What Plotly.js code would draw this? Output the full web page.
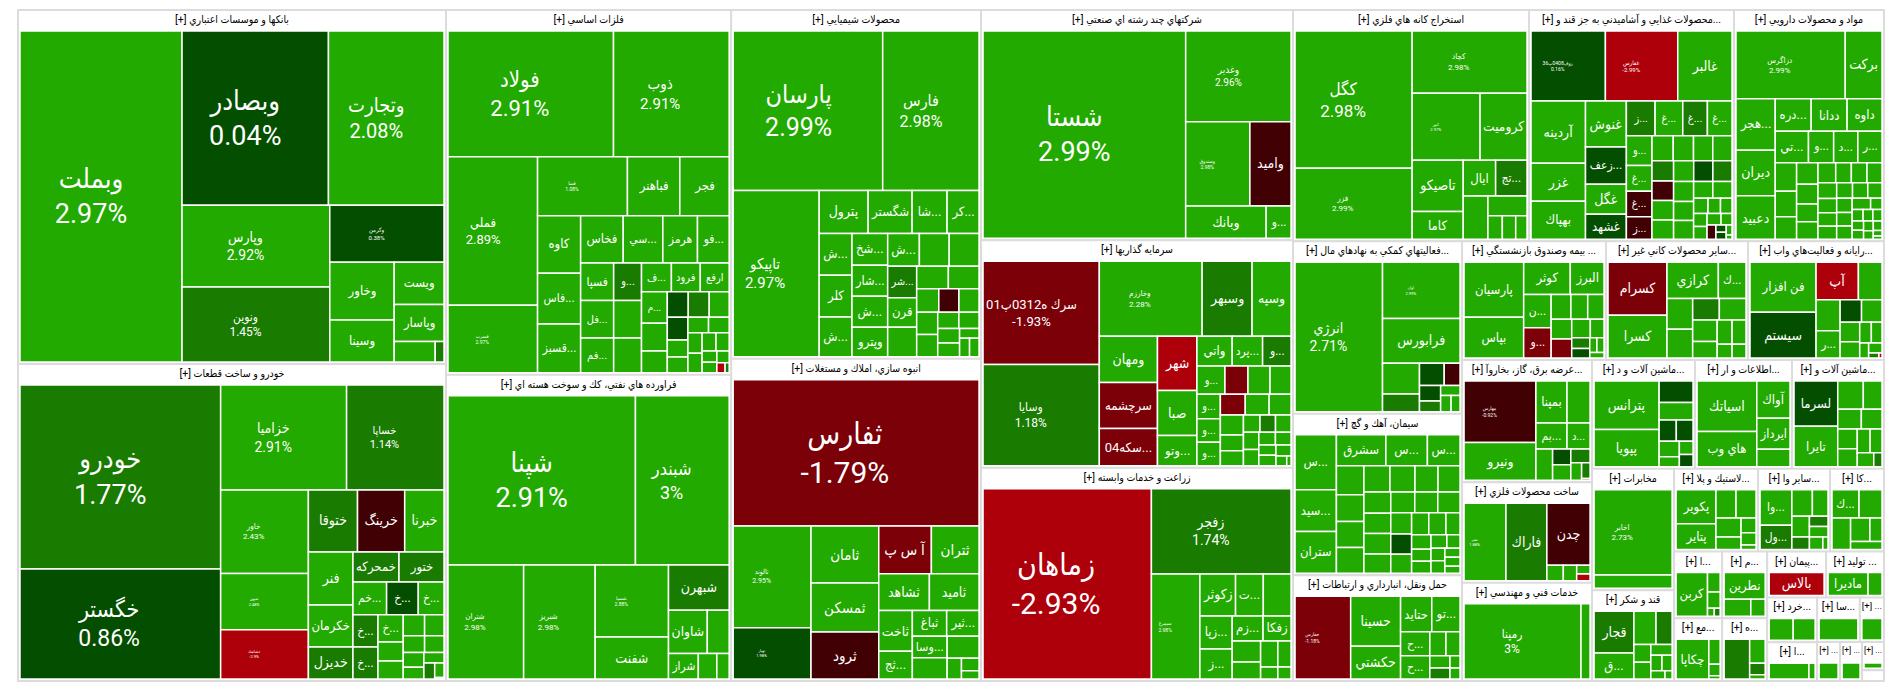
<!DOCTYPE html>
<html>
<head>
<meta charset="utf-8">
<script src="https://cdn.plot.ly/plotly-3.0.1.min.js"></script>
<style>
html, body { margin: 0; padding: 0; background: #fff; overflow: hidden; }
#map { position: absolute; left: 0; top: -13px; width: 1904px; height: 711px; }
</style>
</head>
<body>
<div id="map"></div>
<script>
// areas (px), tones: g m d = green shades, r c k = red shades
const banksNames = ["وبملت","وبصادر","وتجارت","وپارس","ونوين","وكرمن","وخاور","ويست","وسينا","وپاسار"];
const banksPct = ["2.97%","0.04%","2.08%","2.92%","1.45%","0.38%"];
const banksSizes = [27,27,20,14,12,6,13,13,13,13];
const banksAreas = [53452,25431,20068,12054,11025,6496,3712,2091,2688,1836,180,840];
const banksTones = "gdggmdggggm";

const autoNames = ["خودرو","خگستر","خزاميا","خساپا","خاور","شپهن","خشاشك","ختوقا","خرينگ","خبرنا","فنر","خمحركه","ختور","خم...","خ...","خ...","خكرمان","خديزل","خ...","خ...","خ..."];
const autoPct = ["1.77%","0.86%","2.91%","1.14%","2.43%","2.48%","-2.9%"];
const autoSizes = [27,23,14,11,8,4,4,14,14,14,14,13,13,12,12,12,14,14,12,12,12];
const autoAreas = [36432,21780,13056,10098,7221,4872,4263,3000,2880,2400,2332,1370,1340,1088,1024,832,1848,1408,792,675,792,171,440,400,475,450,352,320,300,209,240,133,14];
const autoTones = "mdgmggrmkggmmgdggmmgmm";

const metalsNames = ["فولاد","ذوب","فملي","فسرب","فسا","فباهنر","فجر","كاوه","فخاس","سي...","هرمز","فو...","فاس...","قسبز...","فسپا","و...","ف...","فرود","ارفع","فل...","فم...","م..."];
const metalsPct = ["2.91%","2.91%","2.89%","2.97%","1.08%"];
const metalsSizes = [22,15,13,5,5,13,13,13,13,12,12,12,12,12,12,11,11,11,11,11,11,10];
const metalsAreas = [20418,14268,13050,5916,5187,3021,2850,2436,1978,1840,1610,1472,2142,2058,1216,1026,840,812,812,1216,1120,800,525,462,525,40,80,1026,945,700,550,500,315,315,340,320,286,247,270,234,165,143,150];
const metalsTones = "gggggggggggggggmggggggddmmr";

const oilNames = ["شپنا","شبندر","شتران","شبريز","شسپا","شفنت","شبهرن","شاوان","شراز"];
const oilPct = ["2.91%","3%","2.98%","2.98%","2.88%"];
const oilSizes = [27,18,8,8,5,14,14,14,13];
const oilAreas = [31584,15792,8584,8120,5256,3066,2728,1677,754,946,468,312];
const oilTones = "ggggggm";

const chemNames = ["پارسان","فارس","تاپيكو","پترول","شگستر","شا...","كر...","ش...","كلر","ش...","شخ...","شار...","ش...","وپترو","ش...","شر...","قرن"];
const chemPct = ["2.99%","2.98%","2.97%"];
const chemSizes = [25,16,15,14,14,13,13,13,13,13,13,13,13,13,13,13,13];
const chemAreas = [23393,15072,14027,2058,1848,1470,1344,1344,1344,1280,1120,1085,1085,1030,1020,896,840,460,960,960,840,704,682,506,460,460,460,336,320,315,294,190,171,180];
const chemTones = "gggggggggggggggmgk";

const massNames = ["ثفارس","تالوند","تهيار","ثامان","ثمسكن","ثرود","آ س پ","ثتران","ثشاهد","ثاميد","ثاخت","ثج...","ثباغ","ثير...","وسا..."];
const massPct = ["-1.79%","2.95%","1.98%"];
const massSizes = [30,7,4,15,15,15,15,15,14,14,14,13,13,13,13];
const massAreas = [35568,7828,3952,3819,3283,3149,2491,2256,1836,1800,1353,924,875,825,735,693,735,294,216,144];
const massTones = "cgdggkc";

const multiNames = ["شستا","وغدير","وصندوق","واميد","وبانك","و..."];
const multiPct = ["2.99%","2.96%","2.98%"];
const multiSizes = [27,10,5,14,14,12];
const multiAreas = [41808,9523,5376,3444,2592,800];
const multiTones = "gggk";

const investNames = ["سرك ه0312پ01","وسايا","وخارزم","وسبهر","وسپه","ومهان","سرچشمه","سكه04...","شهر","صبا","وتو...","واتي","پرد...","و...","و...","و...","و...","و..."];
const investPct = ["-1.93%","1.18%","2.28%"];
const investSizes = [15,12,8,14,14,14,13,13,14,14,13,13,12,12,11,11,11,11];
const investAreas = [11526,11300,7416,3600,2808,2576,2576,2072,2052,1710,1140,1008,868,812,756,552,529,529,621,500,255,594,567,480,440,440,352,330,255,272,240,204,192,170,160,255,170,100,40];
const investTones = "cmgmggccrggggmggggccm";

const agriNames = ["زماهان","زفجر","سيمرغ","زكوثر","ت...","زپا...","ز...","زم...","زفكا"];
const agriPct = ["-2.93%","1.74%","2.98%"];
const agriSizes = [30,14,5,14,13,13,13,13,13];
const agriAreas = [31680,11786,5029,1476,1148,1056,960,768,696,1148,588,476,442,338,204,156];
const agriTones = "rm";

const miningNames = ["كگل","فزر","كچاد","كنور","كروميت","تاصيكو","كاما","ايال","تج..."];
const miningPct = ["2.98%","2.99%","2.98%","2.97%"];
const miningSizes = [17,8,8,4,14,14,13,13,12];
const miningAreas = [15892,8236,7076,4488,3102,2600,1400,1152,1116,1056,760,336,312,264];
const miningTones = "ggggggggm";

const foodNames = ["زوف0408پ36","غفارس","غالبر","آردينه","غزر","بهپاك","غنوش","زعف...","غگل","غشهد","ز...","غ...","غ...","غ...","و...","غ...","غ...","ز..."];
const foodPct = ["0.16%","-2.99%"];
const foodSizes = [5,6,14,14,14,13,14,12,14,13,11,11,11,11,11,11,11,11];
const foodAreas = [4958,4824,3618,3224,1976,1976,1794,1443,1170,975,952,918,816,816,725,625,625,550,420,400,380,380,120,70,70,504,480,456,456,380,399,361,361,399,399,304,304,210,182,168,165,154,165,121,54,24];
const foodTones = "drgggggdgdmgmgggkkmkdmkdd";

const drugNames = ["دزاگرس","بركت","هجر...","ديران","دعبيد","دره...","ددانا","داوه","تي...","و...","د...","ر..."];
const drugPct = ["2.99%"];
const drugSizes = [8,14,13,14,14,13,13,13,13,12,12,12];
const drugAreas = [7040,2368,1924,1702,1628,1116,1116,1085,990,750,720,720,580,520,460,440,400,360,340,360,288,252,234,234,300,240,210,195,195,300,280,225,210,200,100,120,120,108,100,100,90,80,80,45,27];
const drugTones = "";

const finNames = ["انرژي","اوان","فرابورس"];
const finPct = ["2.71%","2.99%"];
const finSizes = [14,4,14];
const finAreas = [12963,4320,3440,650,350,325,546,224,1127,168,192,144];
const finTones = "gggmkddm";

const cementNames = ["س...","سيد...","ستران","سشرق","س...","س..."];
const cementPct = [];
const cementSizes = [13,13,13,13,13,13];
const cementAreas = [2160,1640,1640,1450,1218,957,399,756,675,675,702,650,625,575,550,540,520,520,494,456,475,441,357,357,420,378,294,266,221,204,221,165,165,169,130,130,100];
const cementTones = "ggggggd";

const transportNames = ["حفارس","حسينا","حكشتي","حتايد","تو...","ح...","ح..."];
const transportPct = ["-1.18%"];
const transportSizes = [5,14,14,13,13,12,12];
const transportAreas = [4536,2450,1617,1088,986,696,667,220,384,336,240,120,110];
const transportTones = "cggggggm";

const insurNames = ["پارسيان","بپاس","كوثر","البرز","ن...","و..."];
const insurPct = [];
const insurSizes = [13,13,13,13,12,12];
const insurAreas = [3078,2280,1410,1020,858,780,368,180,162,460,391,380,380,323,238,98,98,75];
const insurTones = "gggggccmd";

const mineralsNames = ["كسرام","كسرا","كرازي","ك..."];
const mineralsPct = [];
const mineralsSizes = [14,14,14,12];
const mineralsAreas = [2964,2394,1768,952,540,750,700,540,504,384,345,322,195,182];
const mineralsTones = "cgggm";

const itNames = ["فن افزار","سيستم","آپ","ر..."];
const itPct = [];
const itSizes = [13,14,14,12];
const itAreas = [3136,2880,1505,621,462,50,15,840,713,441,361,209,228,304,128,126];
const itTones = "gdrgdmr";

const powerNames = ["مهارس","ونيرو","بمپنا","بم...","د..."];
const powerPct = ["-0.92%"];
const powerSizes = [5,14,13,12,11];
const powerAreas = [4200,2590,1240,775,575,270,252,126,14,920,496,270,180];
const powerTones = "kggggdmmr";

const metalworkNames = ["نشر","فاراك","چدن"];
const metalworkPct = ["1.88%"];
const metalworkSizes = [4,14,14];
const metalworkAreas = [3280,3200,2709,91,256,208,117];
const metalworkTones = "gmkr";

const engNames = ["رمپنا"];
const engPct = ["3%"];
const engSizes = [12];
const engAreas = [8584,666];
const engTones = "";

const machANames = ["پترانس","پپويا"];
const machAPct = [];
const machASizes = [14,14];
const machAAreas = [3024,2331,700,351,342,160,567,304,192,176];
const machATones = "ggdddd";

const infoNames = ["اسياتك","هاي وب","آواك","ايرداز"];
const infoPct = [];
const infoSizes = [14,13,13,13];
const infoAreas = [2900,2030,1188,990,561];
const infoTones = "";

const machBNames = ["لسرما","تايرا"];
const machBPct = [];
const machBSizes = [13,13];
const machBAreas = [1935,1720,112,702,513,456,399,380,340,299,276,224];
const machBTones = "dgm";

const telecomNames = ["اخابر"];
const telecomPct = ["2.73%"];
const telecomSizes = [8];
const telecomAreas = [6474,1014];
const telecomTones = "";

const sugarNames = ["قجار","ق..."];
const sugarPct = [];
const sugarSizes = [14,13];
const sugarAreas = [1596,988,512,704,288,272,220,165,150,112,56];
const sugarTones = "mgm";

const plasticNames = ["پكوير","پتاير"];
const plasticPct = [];
const plasticSizes = [13,13];
const plasticAreas = [1287,975,540,540,450,300,208,176,64];
const plasticTones = "";

const otherNames = ["وا...","ول..."];
const otherPct = [];
const otherSizes = [12,12];
const otherAreas = [1054,713,204,180,504,384,340,180,156,60];
const otherTones = "gmmm";

const kaNames = ["ك..."];
const kaPct = [];
const kaSizes = [12];
const kaAreas = [729,621,558,434,272,238];
const kaTones = "";

const alefNames = ["كربن"];
const alefAreas = [1408,48,252,210,56];
const alefTones = "gm";
const mimNames = ["نطرين"];
const mimAreas = [1066,442,238];
const peymanNames = ["بالاس"];
const peymanAreas = [1288];
const tolidNames = ["ماديرا"];
const tolidAreas = [920,322];
const kheradAreas = [483,441];
const alef2Areas = [672,105];
const dotsAreas = [504];
const jamNames = ["چكاپا"];
const jamAreas = [1320,288,132,36];
const heAreas = [1000,176,368,64];
const heTones = "mm";
const saAreas = [782];
const tinyAreas = [400];
const thinAreas = [74];
const thin2Areas = [74];
const edgeAreas = [80];

const none = [];
// title, outer area of the sector, names, pct labels, font sizes, leaf areas, tones
const sectors = [
  ["بانكها و موسسات اعتباري",151940,banksNames,banksPct,banksSizes,banksAreas,banksTones],
  ["خودرو و ساخت قطعات",136104,autoNames,autoPct,autoSizes,autoAreas,autoTones],
  ["فلزات اساسي",104310,metalsNames,metalsPct,metalsSizes,metalsAreas,metalsTones],
  ["فراورده هاي نفتي، كك و سوخت هسته اي",87600,oilNames,oilPct,oilSizes,oilAreas,oilTones],
  ["محصولات شيميايي",87400,chemNames,chemPct,chemSizes,chemAreas,chemTones],
  ["انبوه سازي، املاك و مستغلات",80750,massNames,massPct,massSizes,massAreas,massTones],
  ["شركتهاي چند رشته اي صنعتي",72072,multiNames,multiPct,multiSizes,multiAreas,multiTones],
  ["سرمايه گذاريها",71136,investNames,investPct,investSizes,investAreas,investTones],
  ["زراعت و خدمات وابسته",66768,agriNames,agriPct,agriSizes,agriAreas,agriTones],
  ["استخراج كانه هاي فلزي",54752,miningNames,miningPct,miningSizes,miningAreas,miningTones],
  ["محصولات غذايي و آشاميدني به جز قند و...",47560,foodNames,foodPct,foodSizes,foodAreas,foodTones],
  ["مواد و محصولات دارويي",34800,drugNames,drugPct,drugSizes,drugAreas,drugTones],
  ["فعاليتهاي كمكي به نهادهاي مال...",29237,finNames,finPct,finSizes,finAreas,finTones],
  ["سيمان، آهك و گچ",27378,cementNames,cementPct,cementSizes,cementAreas,cementTones],
  ["حمل ونقل، انبارداري و ارتباطات",17914,transportNames,transportPct,transportSizes,transportAreas,transportTones],
  ["بيمه وصندوق بازنشستگي ...",17136,insurNames,insurPct,insurSizes,insurAreas,insurTones],
  ["ساير محصولات كاني غير...",16898,mineralsNames,mineralsPct,mineralsSizes,mineralsAreas,mineralsTones],
  ["رايانه و فعاليت‌هاي واب...",16184,itNames,itPct,itSizes,itAreas,itTones],
  ["عرضه برق، گاز، بخاروآ...",15950,powerNames,powerPct,powerSizes,powerAreas,powerTones],
  ["ساخت محصولات فلزي",13100,metalworkNames,metalworkPct,metalworkSizes,metalworkAreas,metalworkTones],
  ["خدمات فني و مهندسي",12810,engNames,engPct,engSizes,engAreas,engTones],
  ["ماشين آلات و د...",11227,machANames,machAPct,machASizes,machAAreas,machATones],
  ["اطلاعات و ار...",10573,infoNames,infoPct,infoSizes,infoAreas,infoTones],
  ["ماشين آلات و...",10028,machBNames,machBPct,machBSizes,machBAreas,machBTones],
  ["مخابرات",10004,telecomNames,telecomPct,telecomSizes,telecomAreas,telecomTones],
  ["قند و شكر",7462,sugarNames,sugarPct,sugarSizes,sugarAreas,sugarTones],
  ["لاستيك و پلا...",6972,plasticNames,plasticPct,plasticSizes,plasticAreas,plasticTones],
  ["ساير وا...",5976,otherNames,otherPct,otherSizes,otherAreas,otherTones],
  ["كا...",4482,kaNames,kaPct,kaSizes,kaAreas,kaTones],
  ["ا...",3216,alefNames,none,[13],alefAreas,alefTones],
  ["مع...",3024,jamNames,none,[13],jamAreas,""],
  ["م...",3015,mimNames,none,[13],mimAreas,""],
  ["ه...",2835,none,none,none,heAreas,heTones],
  ["پيمان...",2714,peymanNames,none,[14],peymanAreas,"r"],
  ["توليد ...",2668,tolidNames,none,[13],tolidAreas,""],
  ["خرد...",2250,none,none,none,kheradAreas,""],
  ["ا...",1935,none,none,none,alef2Areas,""],
  ["سا...",1911,none,none,none,saAreas,""],
  ["...",1080,none,none,none,dotsAreas,""],
  ["...",897,none,none,none,thinAreas,""],
  ["...",858,none,none,none,tinyAreas,""],
  ["...",624,none,none,none,thin2Areas,""],
  ["",234,none,none,none,edgeAreas,""]
];

const toneColors = {g:"#22aa00", m:"#197b00", d:"#044e00", r:"#ae000b", c:"#7c0008", k:"#400004"};

const ids = [], labels = [], parents = [], values = [], texts = [];
const colors = [], lineColors = [], lineWidths = [], fontSizes = [], fontColors = [];

sectors.forEach(([title, outer, names, pct, sizes, areas, tones], s) => {
  const secId = "s" + s;
  ids.push(secId); labels.push(title ? "[+] " + title : " "); parents.push(""); values.push(0);
  texts.push(title ? "[+] " + title : "");
  colors.push("#ffffff"); lineColors.push("#dcdcdc"); lineWidths.push(2);
  fontSizes.push(10.5); fontColors.push("#000000");

  const total = areas.reduce((a, b) => a + b, 0);
  areas.forEach((area, i) => {
    ids.push(secId + "-" + i);
    labels.push(names[i] || " ");
    parents.push(secId);
    values.push(outer * area / total);
    // labels with a percent sit about 10px left of the tile centre in the original
    const nudge = "\u00a0".repeat(Math.round(21 / (0.25 * (sizes[i] || 10))));
    texts.push(names[i] ? (pct[i] ? names[i] + nudge + "<br>" + pct[i] + nudge : names[i]) : "");
    colors.push(toneColors[tones[i] || "g"]);
    lineColors.push("#ffffff"); lineWidths.push(1.5);
    fontSizes.push(sizes[i] || 10); fontColors.push("#ffffff");
  });
});

Plotly.newPlot("map", [{
  type: "treemap",
  ids: ids,
  labels: labels,
  parents: parents,
  values: values,
  text: texts,
  textinfo: "text",
  textposition: "middle center",
  branchvalues: "remainder",
  hoverinfo: "skip",
  pathbar: {visible: false},
  tiling: {packing: "squarify", squarifyratio: 1.025, pad: 0},
  marker: {
    colors: colors,
    depthfade: false,
    pad: {t: 21, l: 2, r: 2, b: 2},
    line: {color: lineColors, width: lineWidths}
  },
  textfont: {size: fontSizes, color: fontColors, family: "Roboto, 'DejaVu Sans Condensed', 'DejaVu Sans', sans-serif"}
}], {
  width: 1904,
  height: 711,
  margin: {l: 16, r: 18, t: 2, b: 15},
  paper_bgcolor: "#ffffff",
  showlegend: false
}, {displayModeBar: false});
</script>
</body>
</html>
